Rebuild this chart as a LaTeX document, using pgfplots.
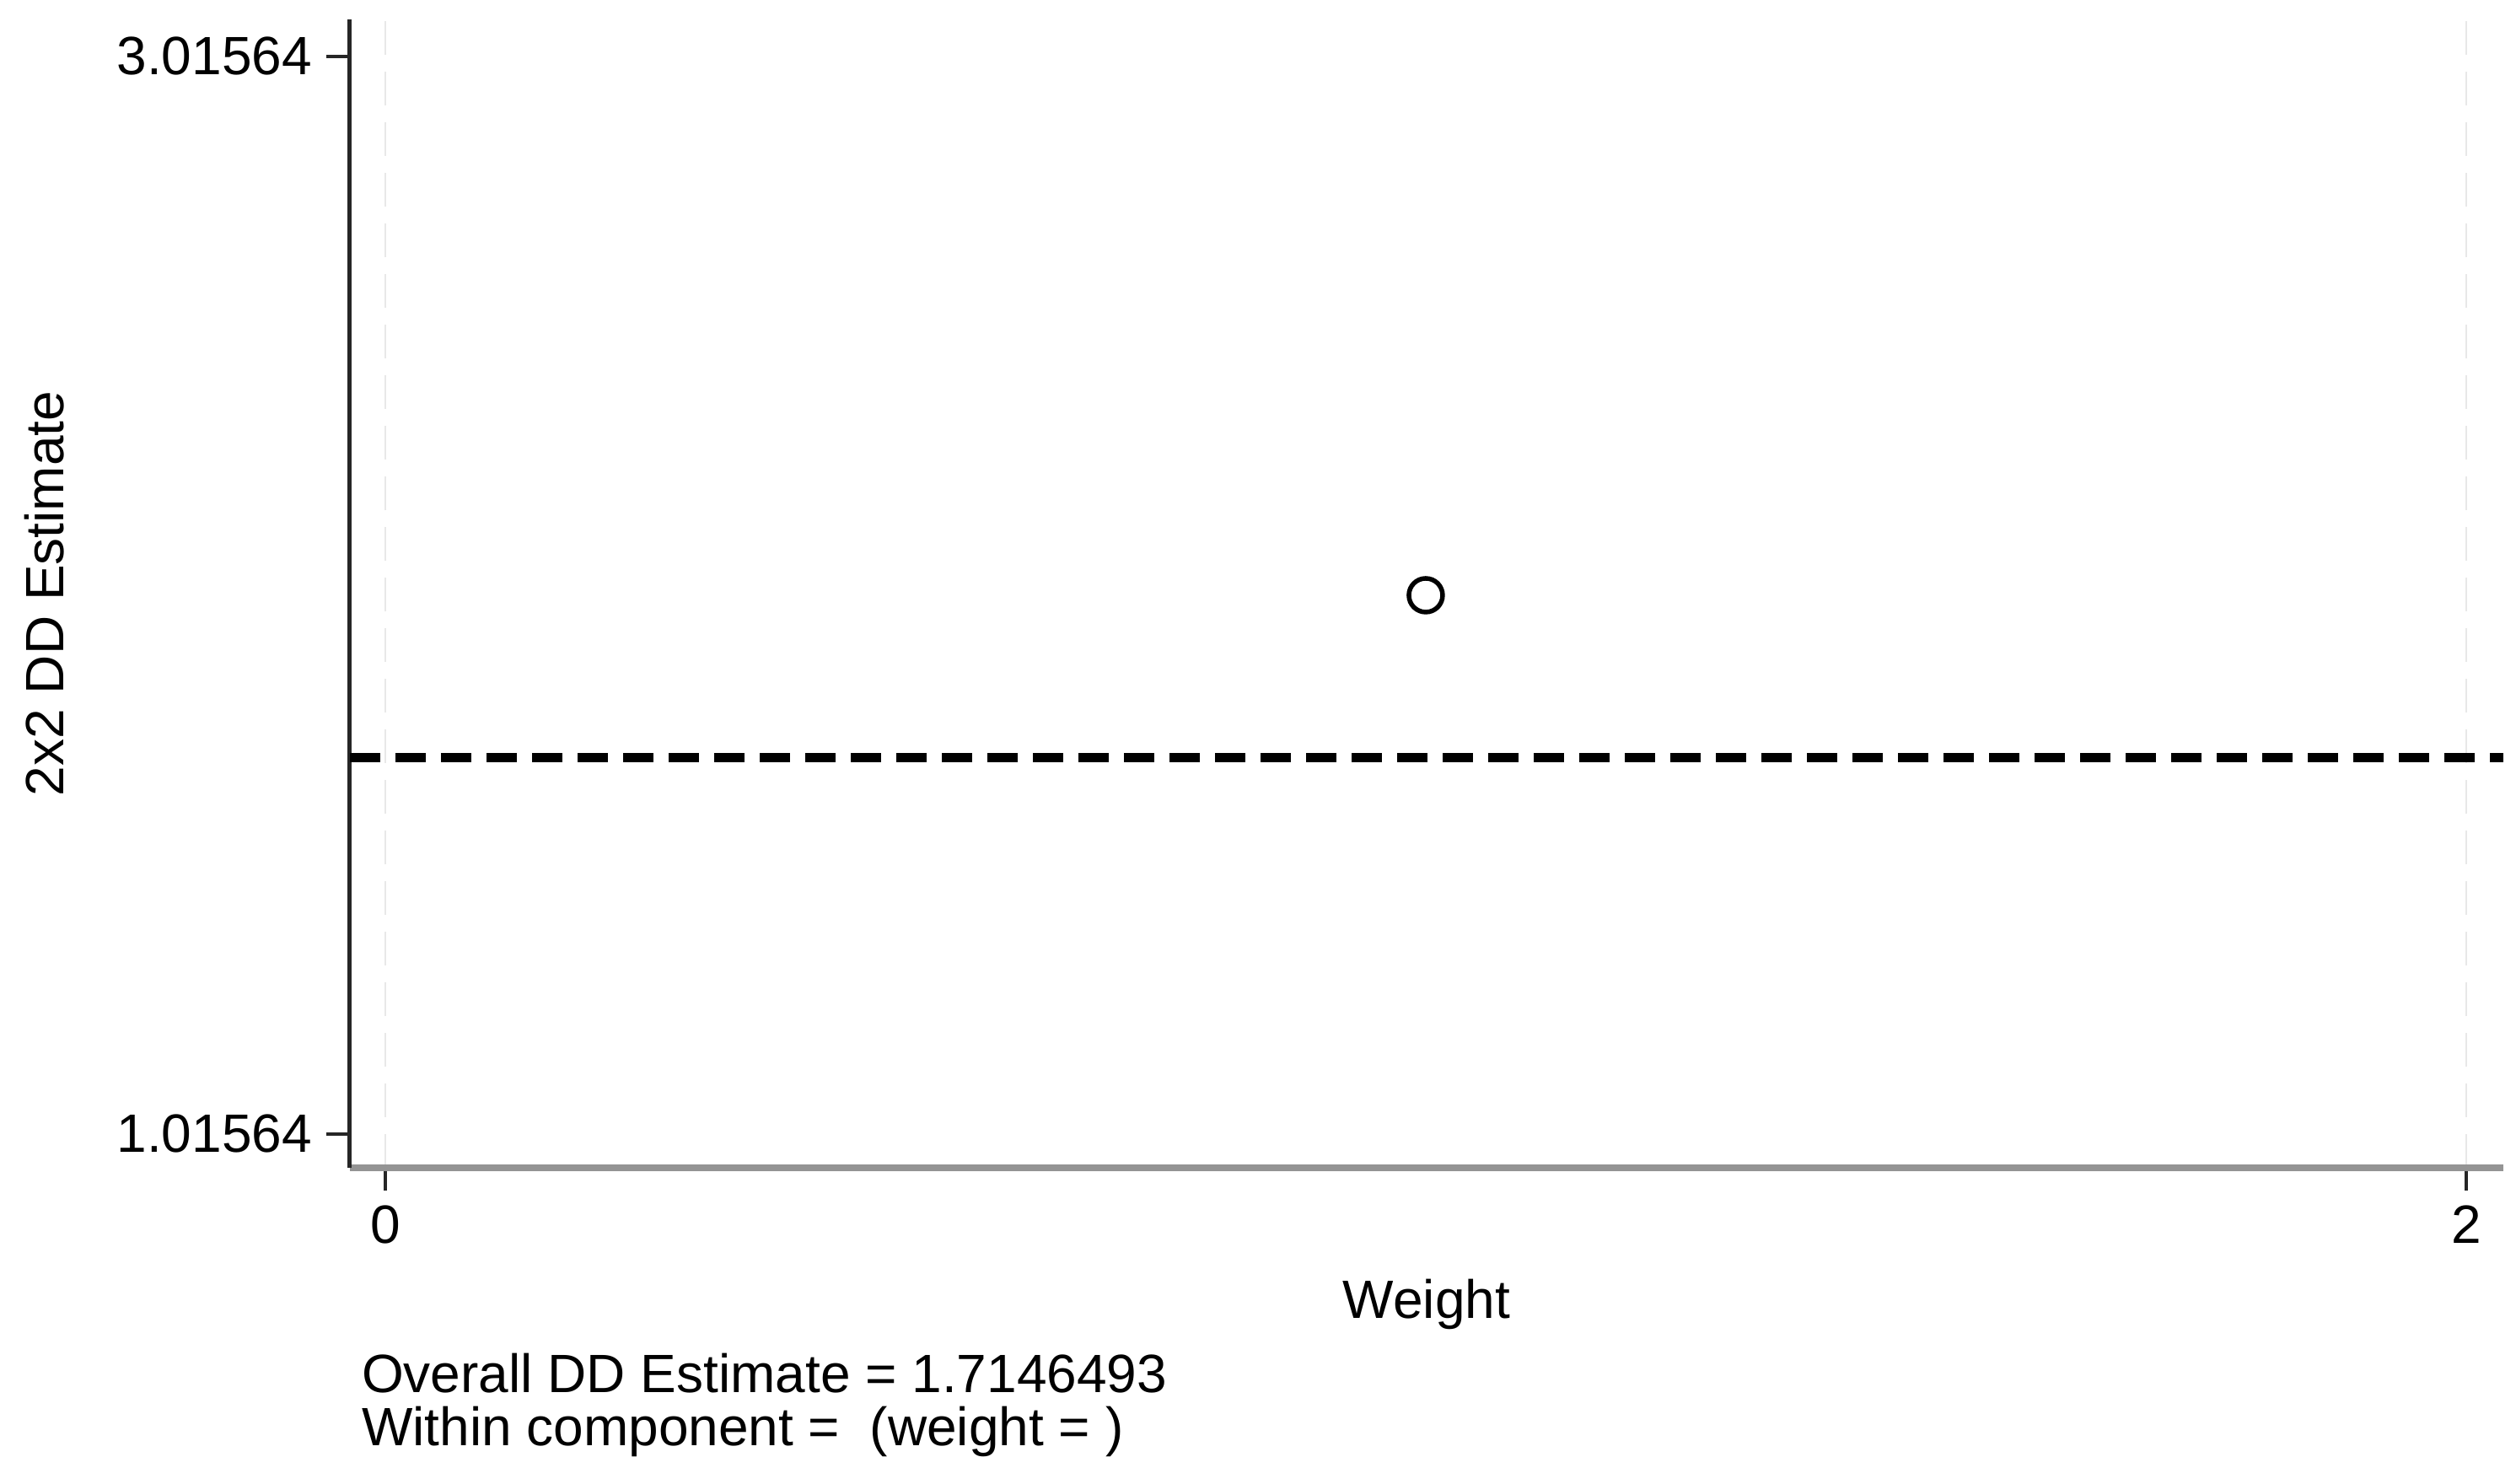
\documentclass[border=0pt]{standalone}
\usepackage{fontspec}
\setmainfont{Liberation Sans}
\usepackage{pgfplots}
\pgfplotsset{compat=1.18}

% single point and the overall estimate
\pgfplotstableread{
x y
1 2.01564
}\ddpoints

\begin{document}
\begin{tikzpicture}
\begin{axis}[
    scale only axis,
    width=510.8pt, height=272.4pt,
    xmin=-0.034, xmax=2.0357,
    ymin=0.953, ymax=3.0845,
    axis lines=left,
    axis line style={-},
    x axis line style={draw=black!42, line width=1.7pt},
    y axis line style={draw=black!85, line width=1pt},
    xtick={0,2}, xticklabels={0,2},
    ytick={1.01564,3.01564}, yticklabels={1.01564,3.01564},
    tick align=outside,
    major tick length=5.5pt,
    tick style={draw=black!85, line width=0.8pt},
    xmajorgrids,
    grid style={draw=black!9, line width=0.5pt, dash pattern=on 8pt off 4pt},
    ticklabel style={font=\fontsize{12.8pt}{14pt}\selectfont},
    label style={font=\fontsize{12.8pt}{14pt}\selectfont},
    /pgf/number format/assume math mode=true,
    xlabel={Weight},
    ylabel={2x2 DD Estimate},
    xlabel style={at={(axis description cs:0.5,-0.119)}, anchor=center},
    ylabel style={at={(axis description cs:-0.1417,0.5)}, anchor=center},
    clip=false,
]
\addplot[only marks, mark=o, mark size=4pt, mark options={line width=1.1pt, black}]
    table {\ddpoints};
\addplot[black, line width=2.2pt, dash pattern=on 7.2pt off 3.6pt]
    coordinates {(-0.034,1.7146493) (2.0357,1.7146493)};
\end{axis}
\node[anchor=base west, inner sep=0pt, font=\fontsize{12.8pt}{14pt}\selectfont]
    at ([shift={(2.6pt,-53.4pt)}]current axis.south west) {Overall DD Estimate = 1.7146493};
\node[anchor=base west, inner sep=0pt, font=\fontsize{12.8pt}{14pt}\selectfont]
    at ([shift={(2.6pt,-66pt)}]current axis.south west) {Within component = \ (weight = )};
\path (current axis.south west) ++(-83pt,-75pt) (current axis.north east) ++(3pt,4.6pt);
\end{tikzpicture}
\end{document}
